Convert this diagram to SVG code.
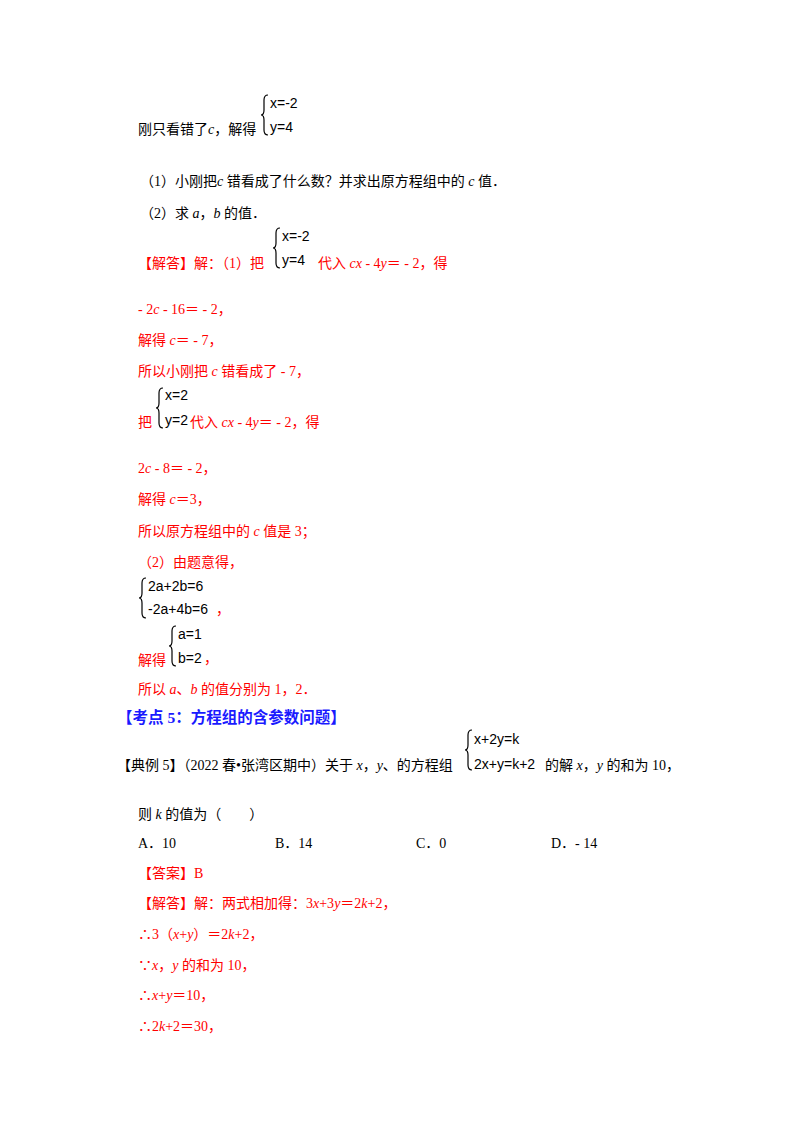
<svg xmlns="http://www.w3.org/2000/svg" width="800" height="1132" viewBox="0 0 800 1132">
<style>
text{font-family:"Liberation Serif","Noto Sans CJK SC",serif;font-size:14px;fill:#000}
.r{fill:#f00}
.b{fill:#1a1aff;font-weight:bold;font-size:15.5px}
.m{font-family:"Liberation Sans","DejaVu Sans",sans-serif;font-size:14px}
.br{fill:none;stroke:#000;stroke-width:1.2}
</style>
<rect width="800" height="1132" fill="#fff"/>
<defs><path id="brace" d="M6 0 Q2 0 2 5 L2 15 Q2 20 -1 20 Q2 20 2 25 L2 35 Q2 40 6 40"/></defs>
<g id="q">
<use href="#brace" x="262" y="95" class="br"/>
<text x="270" y="108" class="m">x=-2</text><text x="270" y="132" class="m">y=4</text>
<text x="138" y="134">刚只看错了<tspan font-style="italic">c</tspan>，解得</text>
<text x="140" y="186">（1）小刚把<tspan font-style="italic">c</tspan> 错看成了什么数？并求出原方程组中的 <tspan font-style="italic">c</tspan> 值．</text>
<text x="140" y="218">（2）求 <tspan font-style="italic">a</tspan>，<tspan font-style="italic">b</tspan> 的值．</text>
</g>
<g id="sol1">
<use href="#brace" x="274" y="228" class="br"/>
<text x="282" y="241" class="m">x=-2</text><text x="282" y="265" class="m">y=4</text>
<text x="138" y="268" class="r">【解答】解：（1）把</text>
<text x="318" y="268" class="r">代入 <tspan font-style="italic">cx</tspan> - 4<tspan font-style="italic">y</tspan>＝ - 2，得</text>
<text x="138" y="314" class="r">- 2<tspan font-style="italic">c</tspan> - 16＝ - 2，</text>
<text x="138" y="345" class="r">解得 <tspan font-style="italic">c</tspan>＝ - 7，</text>
<text x="138" y="376" class="r">所以小刚把 <tspan font-style="italic">c</tspan> 错看成了 - 7，</text>
<use href="#brace" x="157" y="388" class="br"/>
<text x="165" y="400" class="m">x=2</text><text x="165" y="425" class="m">y=2</text>
<text x="138" y="427" class="r">把</text>
<text x="190" y="427" class="r">代入 <tspan font-style="italic">cx</tspan> - 4<tspan font-style="italic">y</tspan>＝ - 2，得</text>
<text x="138" y="473" class="r">2<tspan font-style="italic">c</tspan> - 8＝ - 2，</text>
<text x="138" y="504" class="r">解得 <tspan font-style="italic">c</tspan>＝3，</text>
<text x="138" y="536" class="r">所以原方程组中的 <tspan font-style="italic">c</tspan> 值是 3；</text>
<text x="138" y="567" class="r">（2）由题意得，</text>
<use href="#brace" x="140" y="578" class="br"/>
<text x="148" y="591" class="m">2a+2b=6</text><text x="148" y="614" class="m">-2a+4b=6</text>
<text x="216" y="614" class="r">，</text>
<use href="#brace" x="170" y="626" class="br"/>
<text x="178" y="639" class="m">a=1</text><text x="178" y="663" class="m">b=2</text>
<text x="204" y="663" class="r">，</text>
<text x="138" y="665" class="r">解得</text>
<text x="138" y="694" class="r">所以 <tspan font-style="italic">a</tspan>、<tspan font-style="italic">b</tspan> 的值分别为 1，2．</text>
</g>
<g id="ex5">
<text x="117" y="723" class="b">【考点 5：方程组的含参数问题】</text>
<use href="#brace" x="466" y="730" class="br"/>
<text x="474" y="744" class="m">x+2y=k</text><text x="474" y="769" class="m">2x+y=k+2</text>
<text x="117" y="770">【典例 5】（2022 春•张湾区期中）关于 <tspan font-style="italic">x</tspan>，<tspan font-style="italic">y</tspan>、的方程组</text>
<text x="545" y="770">的解 <tspan font-style="italic">x</tspan>，<tspan font-style="italic">y</tspan> 的和为 10，</text>
<text x="138" y="819">则 <tspan font-style="italic">k</tspan> 的值为（　　）</text>
<text x="138" y="848">A．10</text><text x="275" y="848">B．14</text><text x="416" y="848">C．0</text><text x="551" y="848">D．- 14</text>
<text x="138" y="878" class="r">【答案】B</text>
<text x="138" y="908" class="r">【解答】解：两式相加得：3<tspan font-style="italic">x</tspan>+3<tspan font-style="italic">y</tspan>＝2<tspan font-style="italic">k</tspan>+2，</text>
<text x="138" y="939" class="r">∴3（<tspan font-style="italic">x</tspan>+<tspan font-style="italic">y</tspan>）＝2<tspan font-style="italic">k</tspan>+2，</text>
<text x="138" y="970" class="r">∵<tspan font-style="italic">x</tspan>，<tspan font-style="italic">y</tspan> 的和为 10，</text>
<text x="138" y="1000" class="r">∴<tspan font-style="italic">x</tspan>+<tspan font-style="italic">y</tspan>＝10，</text>
<text x="138" y="1031" class="r">∴2<tspan font-style="italic">k</tspan>+2＝30，</text>
</g>
</svg>
